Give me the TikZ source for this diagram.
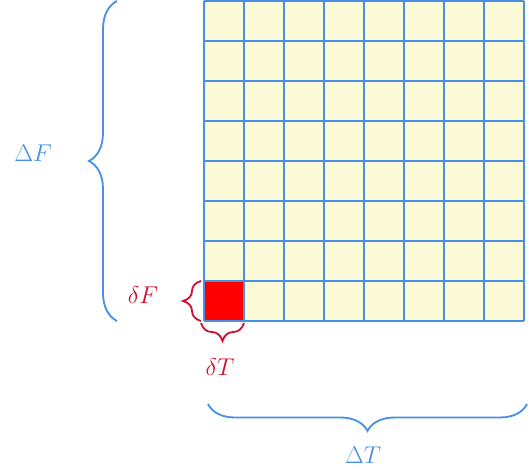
\documentclass[tikz,border=0pt]{standalone}
\usetikzlibrary{decorations.pathreplacing,positioning}
\definecolor{gridblue}{RGB}{74,144,226}
\definecolor{cellyellow}{RGB}{252,249,214}
\definecolor{bracered}{RGB}{208,16,48}

\begin{document}
\begin{tikzpicture}[x=1cm,y=1cm,line width=1.3pt,font=\fontsize{18}{22}\selectfont]
\useasboundingbox (-5.1,-3.725) rectangle (8.175,8.025);
\fill[cellyellow] (0,0) rectangle (8,8);
\fill[red] (0,0) rectangle (1,1);
\foreach \i in {0,...,8} {
  \draw[gridblue] (\i,0) -- (\i,8);
  \draw[gridblue] (0,\i) -- (8,\i);
}
\coordinate (fbot) at (-2.175,0);
\coordinate (ftop) at (-2.175,8);
\coordinate (dfbot) at (-0.075,0);
\coordinate (dftop) at (-0.075,1);
\coordinate (dtleft) at (-0.075,-0.05);
\coordinate (dtright) at (1,-0.05);
\coordinate (tleft) at (0.1,-2.075);
\coordinate (tright) at (8.075,-2.075);

\draw[gridblue,decorate,decoration={brace,amplitude=0.7cm}] (fbot) -- (ftop);
\draw[bracered,decorate,decoration={brace,amplitude=0.45cm}] (dfbot) -- (dftop);
\draw[bracered,decorate,decoration={brace,amplitude=0.45cm}] (dtright) -- (dtleft);
\draw[gridblue,decorate,decoration={brace,amplitude=0.675cm}] (tright) -- (tleft);

\node[text=gridblue] (bigF) at (-4.275,4.2) {$\Delta F$};
\node[text=bracered] (smallF) at (-1.525,0.65) {$\delta F$};
\node[text=bracered] (smallT) at (0.4,-1.15) {$\delta T$};
\node[text=gridblue] (bigT) at (3.975,-3.35) {$\Delta T$};
\end{tikzpicture}
\end{document}
